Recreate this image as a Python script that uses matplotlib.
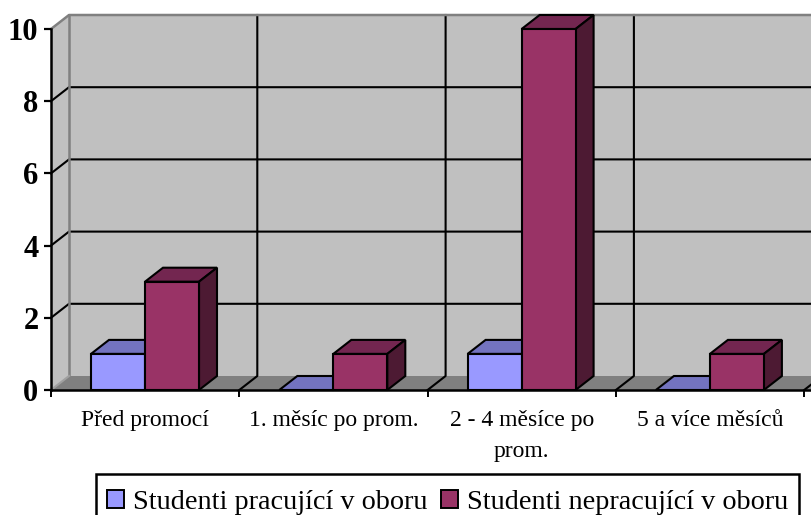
import matplotlib
matplotlib.use("Agg")
import matplotlib.pyplot as plt
from matplotlib.patches import Patch, Polygon, Rectangle

plt.rcParams["font.family"] = ["Liberation Serif", "DejaVu Serif"]

categories = ["Před promocí", "1. měsíc po prom.", "2 - 4 měsíce po\nprom.", "5 a více měsíců"]
pracujici = [1, 0, 1, 0]
nepracujici = [3, 1, 10, 1]
y_ticks = [0, 2, 4, 6, 8, 10]
series_names = ["Studenti pracující v oboru", "Studenti nepracující v oboru"]

W, H = 812, 515
# pseudo 3D offset, in data units
DX = 18 / 188.3
DY = 14 / 36.1
BAR_W = 54 / 188.3
BAR_START = 40 / 188.3
X_MAX = (W - 51) / 188.3

BLUE = ("#9999ff", "#7373bf", "#4d4d80")
CRIMSON = ("#993366", "#732650", "#4d1a33")
WALL = "#c0c0c0"
FLOOR = "#808080"
LW = 1.5


def poly(ax, pts, face, edge="black", lw=LW, z=2):
    ax.add_patch(Polygon(pts, closed=True, facecolor=face, edgecolor=edge,
                         linewidth=lw, zorder=z, clip_on=False, joinstyle="miter"))


def bar3d(ax, x, v, colors, z):
    front, top, side = colors
    if v > 0:
        poly(ax, [(x, v), (x + BAR_W, v), (x + BAR_W + DX, v + DY), (x + DX, v + DY)], top, z=z)
        poly(ax, [(x + BAR_W, 0), (x + BAR_W + DX, DY), (x + BAR_W + DX, v + DY), (x + BAR_W, v)], side, z=z)
        poly(ax, [(x, 0), (x + BAR_W, 0), (x + BAR_W, v), (x, v)], front, z=z)
    else:
        # empty bar, only the flat lid on the floor
        poly(ax, [(x, 0), (x + BAR_W, 0), (x + BAR_W + DX, DY), (x + DX, DY)], top, z=z)


fig = plt.figure(figsize=(W / 100, H / 100), dpi=100)
ax = fig.add_axes([51 / W, (H - 390) / H, (W - 51) / W, 361 / H])
ax.set_xlim(0, X_MAX)
ax.set_ylim(0, 10)
ax.patch.set_visible(False)

# walls and floor
top = y_ticks[-1] + DY
poly(ax, [(DX, DY), (X_MAX, DY), (X_MAX, top), (DX, top)], WALL, edge="none", z=0)
poly(ax, [(0, 0), (DX, DY), (DX, top), (0, y_ticks[-1])], WALL, edge="none", z=0)
poly(ax, [(0, 0), (X_MAX, 0), (X_MAX, DY), (DX, DY)], FLOOR, edge="none", z=0)

# gridlines
for v in y_ticks[1:-1]:
    ax.plot([0, DX, X_MAX], [v, v + DY, v + DY], color="black", lw=LW, zorder=1, clip_on=False)
for i in range(1, len(categories) + 1):
    ax.plot([i, i + DX, i + DX], [0, DY, top], color="black", lw=LW, zorder=1, clip_on=False)

# wall outline
ax.plot([0, DX, X_MAX], [y_ticks[-1], top, top], color=FLOOR, lw=1.8, zorder=1, clip_on=False)
ax.plot([DX, DX], [DY, top], color=FLOOR, lw=1.8, zorder=1, clip_on=False)
ax.plot([0, DX], [0, DY], color="#a0a0a0", lw=LW, zorder=1, clip_on=False)

for i in range(len(categories)):
    x0 = i + BAR_START
    bar3d(ax, x0, pracujici[i], BLUE, 3 + 2 * i)
    bar3d(ax, x0 + BAR_W, nepracujici[i], CRIMSON, 4 + 2 * i)

for s in ("top", "right"):
    ax.spines[s].set_visible(False)
for s in ("left", "bottom"):
    ax.spines[s].set_linewidth(1.8)
    ax.spines[s].set_zorder(20)

ax.set_yticks(y_ticks)
ax.set_yticklabels([str(v) for v in y_ticks], fontsize=22, fontweight="bold")
ax.tick_params(axis="y", length=5, width=1.6, pad=4)
ax.set_xticks(range(len(categories) + 1))
ax.set_xticklabels([])
ax.tick_params(axis="x", which="major", length=5, width=1.4)
ax.set_xticks([i + 0.5 for i in range(len(categories))], minor=True)
ax.set_xticklabels(categories, minor=True, fontsize=17, linespacing=1.6)
ax.tick_params(axis="x", which="minor", length=0, pad=14.5)

# legend box runs off the bottom of the picture, so the frame is separate
fig.add_artist(Rectangle((96 / W, -0.05), (799 - 96) / W, 0.05 + 1 - 474 / H,
                         transform=fig.transFigure, facecolor="white",
                         edgecolor="black", linewidth=1.8))
handles = [Patch(facecolor=BLUE[0], edgecolor="black", linewidth=1.4),
           Patch(facecolor=CRIMSON[0], edgecolor="black", linewidth=1.4)]
leg = fig.legend(handles, series_names, ncol=2, loc="upper left",
                 bbox_to_anchor=(96 / W, 1 - 479 / H), bbox_transform=fig.transFigure,
                 fontsize=20.3, frameon=False, borderaxespad=0, borderpad=0.38,
                 handlelength=0.6, handleheight=0.6, handletextpad=0.35, columnspacing=0.45)

fig.savefig("out.png", dpi=100)
